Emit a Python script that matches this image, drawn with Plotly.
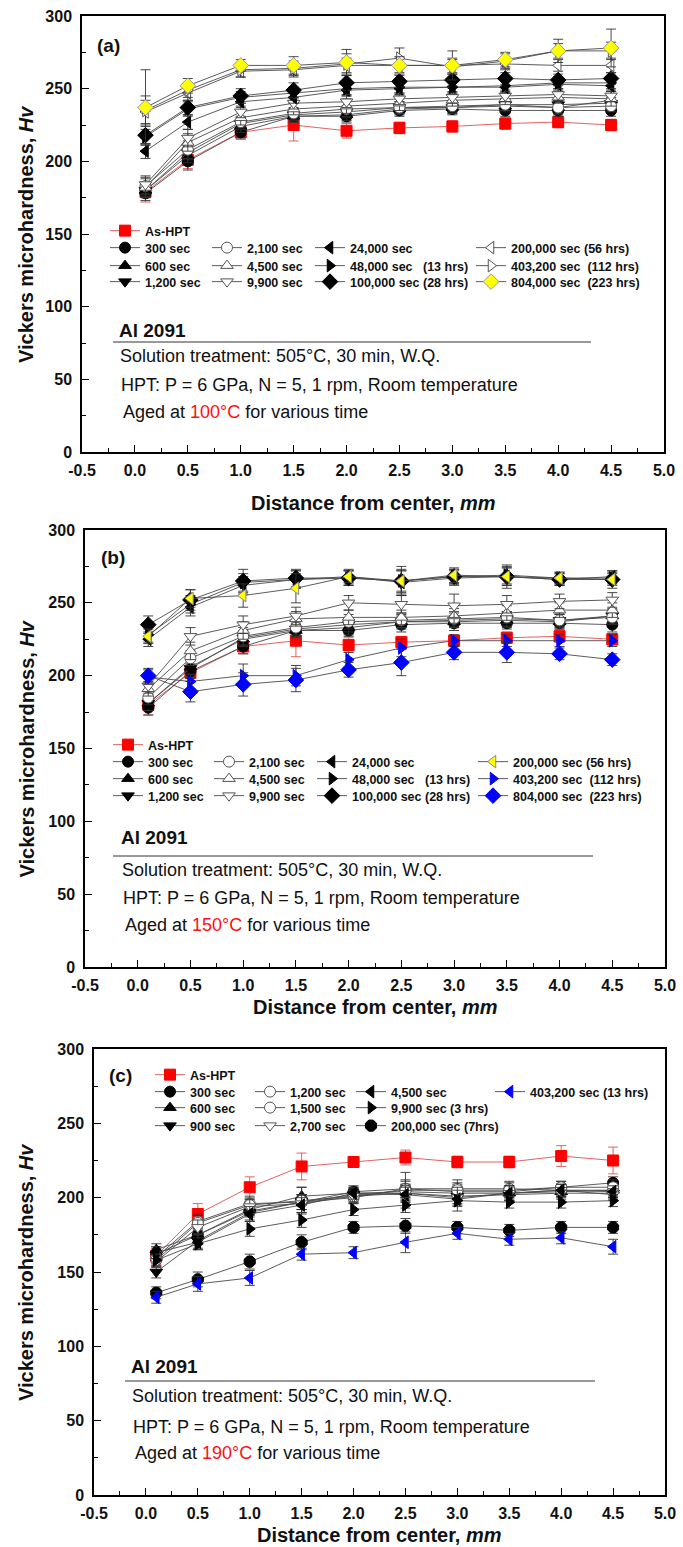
import plotly.graph_objects as go

W, H = 683, 1547
FONT = "Liberation Sans"

# ---------------- data ----------------
x_mm = [0.1, 0.5, 1.0, 1.5, 2.0, 2.5, 3.0, 3.5, 4.0, 4.5]
x_tick_vals = [-0.5, 0.0, 0.5, 1.0, 1.5, 2.0, 2.5, 3.0, 3.5, 4.0, 4.5, 5.0]
x_tick_text = ["-0.5", "0.0", "0.5", "1.0", "1.5", "2.0", "2.5", "3.0", "3.5", "4.0", "4.5", "5.0"]

# Panel (a): aged at 100 C
a_as_hpt = [179, 201, 220, 225, 221, 223, 224, 226, 227, 225]
a_300 = [178, 200, 220, 231, 231, 235, 236, 235, 235, 235]
a_600 = [180, 204, 224, 231, 232, 236, 237, 238, 237, 242]
a_1200 = [180, 206, 226, 232, 234, 237, 237, 239, 239, 240]
a_2100 = [183, 208, 227, 233, 236, 237, 238, 239, 237, 238]
a_4500 = [182, 213, 230, 236, 238, 240, 242, 243, 244, 243]
a_9900 = [184, 216, 234, 240, 241, 243, 244, 245, 246, 245]
a_24000 = [207, 227, 241, 244, 249, 250, 251, 251, 253, 252]
a_48000 = [217, 236, 244, 247, 250, 251, 251, 252, 254, 254]
a_100000 = [218, 237, 245, 249, 254, 255, 256, 257, 256, 257]
a_200000 = [234, 247, 262, 263, 266, 266, 266, 267, 266, 266]
a_403200 = [235, 249, 263, 264, 267, 271, 265, 269, 276, 276]
a_804000 = [237, 252, 266, 266, 268, 266, 266, 270, 276, 278]

a_err_as_hpt = [7, 6, 5, 11, 5, 4, 4, 4, 4, 4]
a_err_300 = [5, 6, 4, 4, 4, 4, 4, 4, 4, 4]
a_err_600 = [5, 5, 4, 4, 4, 4, 4, 4, 4, 4]
a_err_1200 = [5, 5, 4, 4, 4, 4, 4, 4, 4, 4]
a_err_2100 = [6, 6, 4, 4, 5, 4, 4, 4, 5, 4]
a_err_4500 = [6, 6, 5, 4, 5, 5, 4, 4, 4, 5]
a_err_9900 = [6, 6, 4, 4, 4, 4, 4, 4, 4, 4]
a_err_24000 = [5, 5, 4, 4, 4, 4, 4, 4, 4, 4]
a_err_48000 = [5, 5, 4, 4, 4, 4, 4, 4, 4, 4]
a_err_100000 = [6, 5, 5, 5, 5, 4, 4, 4, 4, 4]
a_err_200000 = [8, 5, 4, 5, 5, 5, 5, 4, 4, 5]
a_err_403200 = [10, 5, 5, 5, 7, 7, 5, 5, 5, 6]
a_err_804000 = [26, 5, 4, 6, 9, 6, 10, 5, 8, 13]

# Panel (b): aged at 150 C
b_as_hpt = [180, 202, 220, 224, 221, 223, 224, 226, 227, 225]
b_300 = [178, 203, 220, 231, 231, 235, 236, 236, 236, 235]
b_600 = [181, 206, 225, 231, 233, 237, 237, 238, 237, 241]
b_1200 = [181, 205, 226, 232, 235, 237, 238, 239, 238, 241]
b_2100 = [185, 212, 227, 233, 237, 238, 239, 240, 238, 240]
b_4500 = [191, 217, 231, 239, 240, 240, 241, 243, 245, 245]
b_9900 = [193, 227, 235, 241, 250, 249, 248, 249, 251, 252]
b_24000 = [225, 247, 262, 266, 268, 264, 267, 268, 266, 268]
b_48000 = [228, 249, 264, 266, 267, 265, 268, 269, 267, 267]
b_100000 = [235, 252, 265, 267, 267, 265, 268, 268, 266, 266]
b_200000 = [227, 253, 255, 260, 268, 265, 269, 268, 267, 266]
b_403200 = [199, 196, 200, 200, 211, 219, 224, 224, 224, 224]
b_804000 = [200, 189, 194, 197, 204, 209, 216, 216, 215, 211]

b_err_as_hpt = [7, 6, 5, 11, 5, 4, 4, 4, 4, 4]
b_err_300 = [5, 5, 5, 5, 4, 5, 5, 4, 4, 5]
b_err_600 = [5, 5, 5, 4, 5, 5, 4, 5, 5, 4]
b_err_1200 = [5, 6, 5, 5, 5, 4, 5, 5, 4, 5]
b_err_2100 = [5, 5, 6, 5, 5, 5, 5, 4, 5, 5]
b_err_4500 = [5, 6, 6, 5, 5, 5, 5, 5, 5, 5]
b_err_9900 = [5, 6, 6, 6, 5, 6, 8, 6, 5, 5]
b_err_24000 = [5, 6, 6, 6, 5, 8, 5, 6, 4, 4]
b_err_48000 = [5, 6, 6, 6, 5, 8, 5, 6, 4, 4]
b_err_100000 = [6, 7, 8, 6, 5, 10, 5, 8, 4, 4]
b_err_200000 = [5, 6, 8, 10, 4, 7, 5, 6, 4, 6]
b_err_403200 = [5, 5, 8, 7, 5, 6, 4, 4, 4, 4]
b_err_804000 = [5, 7, 8, 8, 5, 9, 5, 7, 4, 4]

# Panel (c): aged at 190 C
c_as_hpt = [161, 189, 207, 221, 224, 227, 224, 224, 228, 225]
c_300 = [162, 175, 191, 197, 204, 206, 204, 204, 207, 210]
c_600 = [165, 175, 192, 201, 203, 204, 203, 203, 204, 205]
c_900 = [150, 171, 190, 197, 202, 203, 201, 202, 203, 203]
c_1200 = [160, 184, 196, 197, 200, 206, 206, 206, 205, 205]
c_1500 = [158, 183, 195, 198, 201, 205, 205, 205, 207, 207]
c_2700 = [157, 180, 194, 196, 201, 203, 200, 203, 205, 202]
c_4500 = [163, 170, 189, 195, 203, 202, 199, 203, 205, 204]
c_9900 = [158, 169, 179, 185, 192, 195, 198, 197, 197, 198]
c_200000 = [136, 145, 157, 170, 180, 181, 180, 178, 180, 180]
c_403200 = [133, 142, 146, 162, 163, 170, 176, 172, 173, 167]

c_err_as_hpt = [6, 7, 7, 9, 3, 5, 4, 4, 7, 9]
c_err_300 = [4, 4, 4, 5, 4, 5, 5, 4, 4, 4]
c_err_600 = [4, 5, 4, 6, 4, 5, 4, 4, 4, 4]
c_err_900 = [4, 5, 5, 5, 4, 6, 5, 4, 4, 4]
c_err_1200 = [4, 5, 5, 5, 4, 6, 6, 5, 4, 5]
c_err_1500 = [4, 5, 4, 9, 4, 12, 5, 5, 4, 5]
c_err_2700 = [4, 5, 5, 6, 4, 5, 5, 5, 4, 4]
c_err_4500 = [4, 5, 5, 5, 4, 5, 8, 5, 4, 4]
c_err_9900 = [4, 4, 5, 5, 4, 5, 4, 4, 4, 4]
c_err_200000 = [4, 5, 5, 5, 4, 5, 4, 4, 4, 4]
c_err_403200 = [4, 5, 5, 4, 4, 7, 4, 4, 4, 5]

# legend labels
a_labels = ["As-HPT", "300 sec", "600 sec", "1,200 sec", "2,100 sec", "4,500 sec", "9,900 sec",
            "24,000 sec", "48,000 sec\u00a0\u00a0\u00a0(13 hrs)", "100,000 sec (28 hrs)",
            "200,000 sec (56 hrs)", "403,200 sec\u00a0\u00a0(112 hrs)", "804,000 sec\u00a0\u00a0(223 hrs)"]
b_labels = a_labels
c_labels = ["As-HPT", "300 sec", "600 sec", "900 sec", "1,200 sec", "1,500 sec", "2,700 sec",
            "4,500 sec", "9,900 sec (3 hrs)", "200,000 sec (7hrs)", "403,200 sec (13 hrs)"]

a_values = [a_as_hpt, a_300, a_600, a_1200, a_2100, a_4500, a_9900, a_24000, a_48000, a_100000, a_200000, a_403200, a_804000]
a_errors = [a_err_as_hpt, a_err_300, a_err_600, a_err_1200, a_err_2100, a_err_4500, a_err_9900, a_err_24000,
            a_err_48000, a_err_100000, a_err_200000, a_err_403200, a_err_804000]
b_values = [b_as_hpt, b_300, b_600, b_1200, b_2100, b_4500, b_9900, b_24000, b_48000, b_100000, b_200000, b_403200, b_804000]
b_errors = [b_err_as_hpt, b_err_300, b_err_600, b_err_1200, b_err_2100, b_err_4500, b_err_9900, b_err_24000,
            b_err_48000, b_err_100000, b_err_200000, b_err_403200, b_err_804000]
c_values = [c_as_hpt, c_300, c_600, c_900, c_1200, c_1500, c_2700, c_4500, c_9900, c_200000, c_403200]
c_errors = [c_err_as_hpt, c_err_300, c_err_600, c_err_900, c_err_1200, c_err_1500, c_err_2700, c_err_4500,
            c_err_9900, c_err_200000, c_err_403200]

# ---------------- styles ----------------
RED, BLK, WHT, YEL, BLU = "#ff0000", "#000000", "#ffffff", "#ffff00", "#0000ff"
# (symbol, fill, outline)
a_styles = [("square", RED, RED), ("circle", BLK, BLK), ("triangle-up", BLK, BLK), ("triangle-down", BLK, BLK),
            ("circle", WHT, "#555"), ("triangle-up", WHT, "#555"), ("triangle-down", WHT, "#555"),
            ("triangle-left", BLK, BLK), ("triangle-right", BLK, BLK), ("diamond", BLK, BLK),
            ("triangle-left", WHT, "#555"), ("triangle-right", WHT, "#555"), ("diamond", YEL, "#999")]
b_styles = a_styles[:10] + [("triangle-left", YEL, "#888"), ("triangle-right", BLU, BLU), ("diamond", BLU, BLU)]
c_styles = [("square", RED, RED), ("circle", BLK, BLK), ("triangle-up", BLK, BLK), ("triangle-down", BLK, BLK),
            ("circle", WHT, "#555"), ("circle", WHT, "#555"), ("triangle-down", WHT, "#555"),
            ("triangle-left", BLK, BLK), ("triangle-right", BLK, BLK), ("octagon", BLK, BLK),
            ("triangle-left", BLU, BLU)]

# legend grid (column, row) per series
ab_grid = [(0, 0), (0, 1), (0, 2), (0, 3), (1, 1), (1, 2), (1, 3), (2, 1), (2, 2), (2, 3), (3, 1), (3, 2), (3, 3)]
c_grid = [(0, 0), (0, 1), (0, 2), (0, 3), (1, 1), (1, 2), (1, 3), (2, 1), (2, 2), (2, 3), (3, 1)]

# panel geometry in pixels
panels = [
    dict(tag="(a)", temp="100", values=a_values, errors=a_errors, labels=a_labels, styles=a_styles, grid=ab_grid,
         left=82, right=664, top=16, bottom=452,
         col_x=[105, 207, 310, 471], row_y=[231, 248, 266, 282], tag_xy=(95, 45),
         al_y=330, line=(113, 591, 342), sol_y=356, hpt_y=385, aged_y=412, text_x=117,
         title_y=503),
    dict(tag="(b)", temp="150", values=b_values, errors=b_errors, labels=b_labels, styles=b_styles, grid=ab_grid,
         left=85, right=665, top=530, bottom=967,
         col_x=[108, 209, 312, 473], row_y=[745, 762, 779, 796], tag_xy=(99, 557),
         al_y=838, line=(113, 593, 856), sol_y=870, hpt_y=898, aged_y=925, text_x=119,
         title_y=1007),
    dict(tag="(c)", temp="190", values=c_values, errors=c_errors, labels=c_labels, styles=c_styles, grid=c_grid,
         left=94, right=665, top=1049, bottom=1495,
         col_x=[150, 250, 351, 490], row_y=[1075, 1092, 1108, 1126], tag_xy=(107, 1075),
         al_y=1366, line=(125, 595, 1381), sol_y=1396, hpt_y=1427, aged_y=1453, text_x=129,
         title_y=1535),
]


def px(x):
    return x / W


def py(y):
    return 1 - y / H


fig = go.Figure()
layout = dict(width=W, height=H, margin=dict(l=0, r=0, t=0, b=0, autoexpand=False),
              paper_bgcolor="white", plot_bgcolor="white", showlegend=True,
              font=dict(family=FONT, color="#111"))
annotations = []
shapes = []
legend_idx = 0

for pi, p in enumerate(panels):
    n = pi + 1
    xa = "x" if n == 1 else f"x{n}"
    ya = "y" if n == 1 else f"y{n}"
    xkey = "xaxis" if n == 1 else f"xaxis{n}"
    ykey = "yaxis" if n == 1 else f"yaxis{n}"
    layout[xkey] = dict(domain=[px(p["left"]), px(p["right"])], anchor=ya, range=[-0.5, 5.0],
                        tickmode="array", tickvals=x_tick_vals, ticktext=x_tick_text,
                        ticks="inside", ticklen=7, tickwidth=1.3, tickcolor="black",
                        minor=dict(ticks="inside", ticklen=4, tickwidth=1.1, tick0=-0.5, dtick=0.25,
                                   tickcolor="black"),
                        showline=True, linecolor="black", linewidth=1.5, mirror=True,
                        showgrid=False, zeroline=False, ticklabelstandoff=3,
                        tickfont=dict(family=FONT, size=16, color="#111", weight="bold"))
    layout[ykey] = dict(domain=[py(p["bottom"]), py(p["top"])], anchor=xa, range=[0, 300],
                        tickmode="linear", tick0=0, dtick=50,
                        ticks="inside", ticklen=7, tickwidth=1.3, tickcolor="black",
                        minor=dict(ticks="inside", ticklen=4, tickwidth=1.1, dtick=25, tickcolor="black"),
                        showline=True, linecolor="black", linewidth=1.5, mirror=True,
                        showgrid=False, zeroline=False, ticklabelstandoff=5,
                        tickfont=dict(family=FONT, size=16, color="#111", weight="bold"))

    for si, (vals, errs, lab, sty, cell) in enumerate(zip(p["values"], p["errors"], p["labels"], p["styles"], p["grid"])):
        legend_idx += 1
        lname = "legend" if legend_idx == 1 else f"legend{legend_idx}"
        sym, fill, outline = sty
        is_red = fill == RED
        size = 12 if sym in ("diamond", "octagon") else 11
        fig.add_trace(go.Scatter(
            x=x_mm, y=vals, name=lab, mode="lines+markers", xaxis=xa, yaxis=ya, legend=lname,
            line=dict(color="#e05050" if is_red else "#4a4a4a", width=0.9),
            marker=dict(symbol=sym, size=size, color=fill, line=dict(color=outline, width=1)),
            error_y=dict(type="data", array=errs, visible=True, color="#e05050" if is_red else "#333",
                         thickness=0.9, width=5),
        ))
        col, row = cell
        layout[lname] = dict(x=px(p["col_x"][col]), y=py(p["row_y"][row]), xanchor="left", yanchor="middle",
                             bgcolor="rgba(0,0,0,0)", borderwidth=0, itemwidth=30,
                             font=dict(family=FONT, size=12.5, color="#111", weight="bold"),
                             itemclick=False, itemdoubleclick=False)

    # panel tag
    tx, ty = p["tag_xy"]
    annotations.append(dict(text=p["tag"], x=px(tx), y=py(ty), xref="paper", yref="paper",
                            xanchor="left", yanchor="middle", showarrow=False,
                            font=dict(family=FONT, size=19, color="#111", weight="bold")))
    # alloy name
    annotations.append(dict(text="Al 2091", x=px(p["text_x"]), y=py(p["al_y"]), xref="paper", yref="paper",
                            xanchor="left", yanchor="middle", showarrow=False,
                            font=dict(family=FONT, size=19, color="#111", weight="bold")))
    x0, x1, yl = p["line"]
    shapes.append(dict(type="line", xref="paper", yref="paper", x0=px(x0), x1=px(x1), y0=py(yl), y1=py(yl),
                       line=dict(color="#333", width=1)))
    annotations.append(dict(text="Solution treatment: 505°C, 30 min, W.Q.", x=px(p["text_x"] + 1),
                            y=py(p["sol_y"]), xref="paper", yref="paper", xanchor="left", yanchor="middle",
                            showarrow=False, font=dict(family=FONT, size=18, color="#111")))
    annotations.append(dict(text="HPT: P = 6 GPa, N = 5, 1 rpm, Room temperature", x=px(p["text_x"] + 2),
                            y=py(p["hpt_y"]), xref="paper", yref="paper", xanchor="left", yanchor="middle",
                            showarrow=False, font=dict(family=FONT, size=18, color="#111")))
    annotations.append(dict(text="Aged at <span style='color:#ff1010'>" + p["temp"] + "°C</span> for various time",
                            x=px(p["text_x"] + 4), y=py(p["aged_y"]), xref="paper", yref="paper",
                            xanchor="left", yanchor="middle", showarrow=False,
                            font=dict(family=FONT, size=18, color="#111")))
    # axis titles
    annotations.append(dict(text="Distance from center, <i>mm</i>", x=px((p["left"] + p["right"]) / 2),
                            y=py(p["title_y"]), xref="paper", yref="paper", xanchor="center", yanchor="middle",
                            showarrow=False, font=dict(family=FONT, size=20, color="#111", weight="bold")))
    annotations.append(dict(text="Vickers microhardness, <i>Hv</i>", x=px(26),
                            y=py((p["top"] + p["bottom"]) / 2), xref="paper", yref="paper",
                            xanchor="center", yanchor="middle", textangle=-90, showarrow=False,
                            font=dict(family=FONT, size=20, color="#111", weight="bold")))

layout["annotations"] = annotations
layout["shapes"] = shapes
fig.update_layout(layout)

fig.write_html("out.html", config={"displayModeBar": False},
               post_script="document.body.style.margin='0';")
